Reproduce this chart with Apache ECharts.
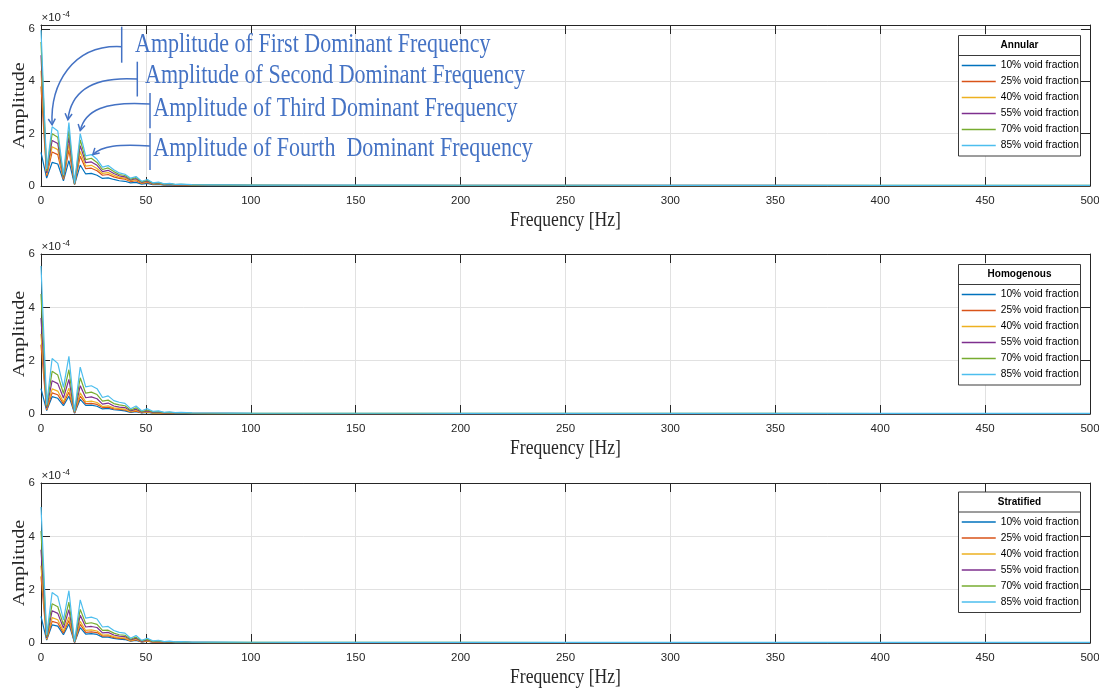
<!DOCTYPE html>
<html>
<head>
<meta charset="utf-8">
<script src="https://cdn.jsdelivr.net/npm/echarts@6/dist/echarts.min.js"></script>
<style>
  html, body { margin: 0; padding: 0; background: #ffffff; }
  #chart { width: 1099px; height: 688px; }
</style>
</head>
<body>
<div id="chart"></div>
<script>
// Frequency bins of the amplitude spectra (Hz)
const freq = [0, 2.7, 5.3, 8, 10.7, 13.3, 16, 18.7, 21.3, 24, 26.7, 29.3, 32, 34.7, 37.3, 40,
  42.7, 45.3, 48, 50.7, 53.3, 56, 58.7, 61.3, 64, 66.7, 72, 80, 90, 100, 125, 150, 175, 200,
  250, 300, 350, 400, 450, 500];

const seriesNames = ['10% void fraction', '25% void fraction', '40% void fraction',
  '55% void fraction', '70% void fraction', '85% void fraction'];
const regimeTitles = ['Annular', 'Homogenous', 'Stratified'];

// Amplitudes, in units of 1e-4
const annularVf10 = [1.28, 0.3, 0.9, 0.84, 0.2, 0.97, 0.05, 0.8, 0.46, 0.48, 0.41, 0.29, 0.31, 0.25, 0.2, 0.18, 0.12, 0.14, 0.07, 0.1, 0.05, 0.06, 0.03, 0.04, 0.024, 0.028, 0.02, 0.018, 0.016, 0.014, 0.013, 0.012, 0.012, 0.011, 0.011, 0.011, 0.01, 0.01, 0.01, 0.01];
const annularVf25 = [3.8, 0.38, 1.3, 1.2, 0.25, 1.38, 0.06, 1.14, 0.66, 0.68, 0.58, 0.41, 0.44, 0.35, 0.29, 0.26, 0.17, 0.2, 0.1, 0.14, 0.07, 0.09, 0.045, 0.06, 0.034, 0.04, 0.028, 0.026, 0.023, 0.02, 0.018, 0.017, 0.017, 0.016, 0.016, 0.016, 0.015, 0.015, 0.015, 0.015];
const annularVf40 = [4.4, 0.44, 1.5, 1.39, 0.29, 1.6, 0.07, 1.32, 0.76, 0.79, 0.67, 0.48, 0.51, 0.41, 0.33, 0.3, 0.2, 0.24, 0.12, 0.17, 0.08, 0.1, 0.05, 0.07, 0.04, 0.046, 0.033, 0.03, 0.026, 0.023, 0.021, 0.02, 0.02, 0.019, 0.019, 0.018, 0.018, 0.017, 0.017, 0.017];
const annularVf55 = [5.0, 0.5, 1.74, 1.62, 0.33, 1.86, 0.08, 1.54, 0.89, 0.92, 0.79, 0.55, 0.6, 0.48, 0.39, 0.35, 0.23, 0.28, 0.14, 0.19, 0.09, 0.12, 0.06, 0.08, 0.045, 0.054, 0.038, 0.035, 0.031, 0.027, 0.025, 0.023, 0.023, 0.022, 0.022, 0.021, 0.021, 0.02, 0.02, 0.02];
const annularVf70 = [5.5, 0.57, 2.0, 1.86, 0.37, 2.13, 0.09, 1.76, 1.01, 1.06, 0.9, 0.63, 0.69, 0.55, 0.44, 0.4, 0.26, 0.32, 0.16, 0.22, 0.11, 0.13, 0.07, 0.09, 0.05, 0.06, 0.044, 0.04, 0.035, 0.031, 0.028, 0.026, 0.026, 0.025, 0.025, 0.024, 0.024, 0.023, 0.023, 0.023];
const annularVf85 = [5.95, 0.65, 2.26, 2.1, 0.42, 2.42, 0.1, 2.0, 1.15, 1.2, 1.02, 0.72, 0.78, 0.62, 0.5, 0.45, 0.3, 0.36, 0.18, 0.25, 0.12, 0.15, 0.08, 0.1, 0.06, 0.07, 0.05, 0.045, 0.04, 0.035, 0.032, 0.03, 0.03, 0.028, 0.028, 0.027, 0.027, 0.026, 0.026, 0.026];

const homogVf10 = [0.95, 0.13, 0.65, 0.59, 0.31, 0.67, 0.03, 0.55, 0.32, 0.33, 0.29, 0.19, 0.21, 0.16, 0.14, 0.12, 0.06, 0.09, 0.04, 0.06, 0.03, 0.037, 0.019, 0.025, 0.015, 0.019, 0.013, 0.012, 0.011, 0.01, 0.009, 0.009, 0.009, 0.008, 0.008, 0.008, 0.008, 0.008, 0.008, 0.008];
const homogVf25 = [2.6, 0.15, 0.79, 0.72, 0.38, 0.82, 0.04, 0.67, 0.39, 0.4, 0.36, 0.24, 0.26, 0.19, 0.17, 0.15, 0.08, 0.11, 0.05, 0.08, 0.04, 0.045, 0.023, 0.03, 0.019, 0.023, 0.016, 0.014, 0.013, 0.012, 0.011, 0.011, 0.01, 0.01, 0.01, 0.01, 0.01, 0.009, 0.009, 0.009];
const homogVf40 = [3.0, 0.18, 0.94, 0.86, 0.45, 0.97, 0.05, 0.79, 0.46, 0.48, 0.43, 0.28, 0.31, 0.23, 0.2, 0.18, 0.09, 0.14, 0.05, 0.09, 0.045, 0.054, 0.03, 0.036, 0.022, 0.027, 0.019, 0.017, 0.015, 0.014, 0.013, 0.013, 0.012, 0.012, 0.012, 0.012, 0.011, 0.011, 0.011, 0.011];
const homogVf55 = [3.6, 0.22, 1.25, 1.14, 0.6, 1.3, 0.06, 1.06, 0.61, 0.64, 0.57, 0.37, 0.41, 0.3, 0.26, 0.24, 0.12, 0.18, 0.07, 0.12, 0.06, 0.07, 0.04, 0.05, 0.03, 0.035, 0.025, 0.023, 0.02, 0.019, 0.017, 0.017, 0.017, 0.016, 0.016, 0.016, 0.015, 0.015, 0.015, 0.015];
const homogVf70 = [4.5, 0.28, 1.6, 1.46, 0.77, 1.66, 0.08, 1.36, 0.78, 0.82, 0.73, 0.48, 0.52, 0.39, 0.34, 0.31, 0.15, 0.23, 0.09, 0.15, 0.08, 0.09, 0.05, 0.06, 0.04, 0.045, 0.032, 0.029, 0.026, 0.024, 0.022, 0.021, 0.021, 0.02, 0.02, 0.02, 0.02, 0.019, 0.019, 0.019];
const homogVf85 = [5.55, 0.35, 2.08, 1.9, 1.0, 2.16, 0.1, 1.76, 1.02, 1.06, 0.95, 0.62, 0.68, 0.5, 0.44, 0.4, 0.2, 0.3, 0.12, 0.2, 0.1, 0.12, 0.06, 0.08, 0.05, 0.06, 0.042, 0.038, 0.034, 0.031, 0.029, 0.028, 0.028, 0.027, 0.027, 0.026, 0.026, 0.026, 0.025, 0.025];

const stratVf10 = [1.0, 0.11, 0.68, 0.63, 0.31, 0.71, 0.02, 0.58, 0.33, 0.35, 0.32, 0.22, 0.22, 0.17, 0.14, 0.13, 0.065, 0.1, 0.036, 0.065, 0.03, 0.036, 0.018, 0.025, 0.014, 0.018, 0.013, 0.012, 0.011, 0.01, 0.01, 0.009, 0.009, 0.009, 0.009, 0.008, 0.008, 0.008, 0.008, 0.008];
const stratVf25 = [2.5, 0.13, 0.81, 0.75, 0.37, 0.84, 0.02, 0.7, 0.4, 0.42, 0.39, 0.26, 0.27, 0.2, 0.17, 0.16, 0.08, 0.12, 0.04, 0.08, 0.034, 0.043, 0.022, 0.03, 0.017, 0.022, 0.015, 0.014, 0.013, 0.012, 0.011, 0.011, 0.011, 0.01, 0.01, 0.01, 0.01, 0.01, 0.01, 0.01];
const stratVf40 = [2.9, 0.15, 0.95, 0.87, 0.44, 0.98, 0.03, 0.81, 0.47, 0.49, 0.45, 0.3, 0.31, 0.24, 0.2, 0.19, 0.09, 0.14, 0.05, 0.09, 0.04, 0.05, 0.025, 0.035, 0.02, 0.025, 0.018, 0.016, 0.015, 0.014, 0.013, 0.013, 0.013, 0.012, 0.012, 0.012, 0.012, 0.012, 0.012, 0.012];
const stratVf55 = [3.5, 0.19, 1.21, 1.11, 0.56, 1.25, 0.03, 1.04, 0.6, 0.62, 0.58, 0.38, 0.4, 0.3, 0.26, 0.24, 0.12, 0.18, 0.06, 0.12, 0.05, 0.064, 0.032, 0.045, 0.026, 0.032, 0.023, 0.021, 0.019, 0.018, 0.017, 0.017, 0.016, 0.016, 0.016, 0.015, 0.015, 0.015, 0.015, 0.015];
const stratVf70 = [4.2, 0.24, 1.47, 1.36, 0.68, 1.53, 0.04, 1.26, 0.73, 0.76, 0.7, 0.47, 0.48, 0.37, 0.31, 0.29, 0.14, 0.22, 0.08, 0.14, 0.06, 0.08, 0.04, 0.055, 0.03, 0.04, 0.028, 0.026, 0.023, 0.022, 0.021, 0.02, 0.02, 0.02, 0.019, 0.019, 0.019, 0.019, 0.018, 0.018];
const stratVf85 = [5.1, 0.3, 1.89, 1.74, 0.87, 1.96, 0.05, 1.62, 0.93, 0.97, 0.9, 0.6, 0.62, 0.47, 0.4, 0.37, 0.18, 0.28, 0.1, 0.18, 0.08, 0.1, 0.05, 0.07, 0.04, 0.05, 0.036, 0.033, 0.03, 0.028, 0.027, 0.026, 0.026, 0.025, 0.025, 0.025, 0.024, 0.024, 0.024, 0.024];

const xTicks = { min: 0, max: 500, step: 50 };
const yTicks = { min: 0, step: 2 };

const panelData = [
  [annularVf10, annularVf25, annularVf40, annularVf55, annularVf70, annularVf85],
  [homogVf10, homogVf25, homogVf40, homogVf55, homogVf70, homogVf85],
  [stratVf10, stratVf25, stratVf40, stratVf55, stratVf70, stratVf85]
];

// ---- look ----
const COLORS = ['#0072BD', '#D95319', '#EDB120', '#7E2F8E', '#77AC30', '#4DBEEE'];
const INK = '#262626';
const GRID_LINE = '#e1e1e1';
const NOTE = '#4472C4';
const SANS = "'Liberation Sans', Arial, sans-serif";
const SERIF = "'Liberation Serif', 'Times New Roman', serif";

const plotLeft = 41, plotWidth = 1049;
const plotTop = [25, 254, 483];
const plotHeight = [161, 160, 160];
const yMax = [6.15, 6, 6];
const legendTitleY = [45.5, 274.5, 502];

const grids = [], xAxes = [], yAxes = [], series = [], legends = [];

const axisBase = {
  type: 'value',
  axisLine: { show: true, onZero: false, lineStyle: { color: INK, width: 1 } },
  axisTick: { show: true, inside: true, length: 9, lineStyle: { color: INK, width: 1 } }
};

for (let p = 0; p < 3; p++) {
  grids.push({ left: plotLeft, top: plotTop[p], width: plotWidth, height: plotHeight[p],
    containLabel: false, outerBoundsMode: 'none' });

  xAxes.push(Object.assign({}, axisBase, {
    gridIndex: p, position: 'bottom', min: xTicks.min, max: xTicks.max, interval: xTicks.step,
    axisLabel: { color: INK, fontFamily: SANS, fontSize: 11.5, margin: 9 },
    splitLine: { show: true, lineStyle: { color: GRID_LINE, width: 1 } }
  }));
  xAxes.push(Object.assign({}, axisBase, {
    gridIndex: p, position: 'top', min: xTicks.min, max: xTicks.max, interval: xTicks.step,
    axisLabel: { show: false }, splitLine: { show: false }
  }));

  yAxes.push(Object.assign({}, axisBase, {
    gridIndex: p, position: 'left', min: yTicks.min, max: yMax[p], interval: yTicks.step,
    axisLabel: { color: INK, fontFamily: SANS, fontSize: 11.5, margin: 6, showMaxLabel: yMax[p] % yTicks.step === 0 },
    splitLine: { show: true, lineStyle: { color: GRID_LINE, width: 1 } }
  }));
  yAxes.push(Object.assign({}, axisBase, {
    gridIndex: p, position: 'right', min: yTicks.min, max: yMax[p], interval: yTicks.step,
    axisLabel: { show: false }, splitLine: { show: false }
  }));

  panelData[p].forEach((vals, k) => {
    series.push({
      type: 'line',
      name: seriesNames[k],
      xAxisIndex: 2 * p,
      yAxisIndex: 2 * p,
      data: freq.map((f, i) => [f, vals[i]]),
      symbol: 'none',
      showSymbol: false,
      lineStyle: { color: COLORS[k], width: 1.2 },
      itemStyle: { color: COLORS[k] },
      z: 2,
      silent: true
    });
  });

  legends.push({
    orient: 'vertical',
    left: 961,
    top: legendTitleY[p] + 14.5,
    padding: 0,
    itemWidth: 34,
    itemHeight: 14,
    itemGap: 4.8,
    selectedMode: false,
    data: seriesNames,
    itemStyle: { opacity: 0 },
    lineStyle: { width: 1.5 },
    textStyle: { fontFamily: SANS, fontSize: 10.2, color: '#000' },
    z: 6
  });
}

const chart = echarts.init(document.getElementById('chart'), null, { renderer: 'canvas' });
chart.setOption({
  backgroundColor: '#ffffff',
  animation: false,
  grid: grids,
  xAxis: xAxes,
  yAxis: yAxes,
  legend: legends,
  series: series
});

// ---- decorations: axis names, exponent labels, legend frames, annotations ----
const gfx = [];

for (let p = 0; p < 3; p++) {
  const midY = plotTop[p] + plotHeight[p] / 2;
  const baseY = plotTop[p] + plotHeight[p];

  gfx.push({
    type: 'text', x: 19, y: midY, rotation: Math.PI / 2, scaleX: 1.15,
    style: { text: 'Amplitude', fontFamily: SERIF, fontSize: 17.6, fill: INK, align: 'center', verticalAlign: 'middle' }
  });
  gfx.push({
    type: 'text', x: plotLeft + plotWidth / 2, y: baseY + 35, scaleY: 1.15,
    style: { text: 'Frequency [Hz]', fontFamily: SERIF, fontSize: 17.6, fill: INK, align: 'center', verticalAlign: 'middle' }
  });

  // ×10^-4 exponent above the amplitude axis
  gfx.push({
    type: 'text', x: plotLeft + 0.5, y: plotTop[p] - 7,
    style: { text: '\u00d710', fontFamily: SANS, fontSize: 11.5, fill: INK, align: 'left', verticalAlign: 'middle' }
  });
  gfx.push({
    type: 'text', x: plotLeft + 21.5, y: plotTop[p] - 10.5,
    style: { text: '-4', fontFamily: SANS, fontSize: 8.5, fill: INK, align: 'left', verticalAlign: 'middle' }
  });

  // legend frame with title row
  const ty = legendTitleY[p];
  gfx.push({
    type: 'rect', z: 4,
    shape: { x: 958.5, y: ty - 10, width: 122, height: 120.5 },
    style: { fill: '#ffffff', stroke: '#3a3a3a', lineWidth: 1 }
  });
  gfx.push({
    type: 'line', z: 5,
    shape: { x1: 958.5, y1: ty + 10, x2: 1080.5, y2: ty + 10 },
    style: { stroke: '#3a3a3a', lineWidth: 1 }
  });
  gfx.push({
    type: 'text', z: 5, x: 1019.5, y: ty,
    style: { text: regimeTitles[p], fontFamily: SANS, fontSize: 10, fontWeight: 'bold', fill: '#000', align: 'center', verticalAlign: 'middle' }
  });
}

// annotation arrows pointing at the dominant-frequency peaks of the annular spectrum
const toPx = (i) => chart.convertToPixel({ xAxisIndex: 0, yAxisIndex: 0 }, [freq[i], annularVf85[i]]);
const peaks = [
  { idx: 2, dx: 0, dy: -2, text: 'Amplitude of First Dominant Frequency', tx: 135, ty: 45,
    bar: [121.7, 26.7, 62.7], start: [121.7, 46.7], c1: [72, 44], c2: [50, 85] },
  { idx: 5, dx: -1, dy: -3, text: 'Amplitude of Second Dominant Frequency', tx: 145, ty: 76.5,
    bar: [137.3, 61.7, 96.5], start: [137.3, 79], c1: [92, 76], c2: [71, 92] },
  { idx: 7, dx: 0, dy: -3, text: 'Amplitude of Third Dominant Frequency', tx: 153.3, ty: 109.3,
    bar: [150, 93, 128.3], start: [150, 104], c1: [105, 101], c2: [85, 110] },
  { idx: 9, dx: 1.5, dy: 0, text: 'Amplitude of Fourth  Dominant Frequency', tx: 153.3, ty: 149.3,
    bar: [150, 133, 170], start: [150, 146], c1: [118, 144], c2: [102, 146] }
];

function arrowHead(tip, from) {
  const dx = tip[0] - from[0], dy = tip[1] - from[1];
  const len = Math.hypot(dx, dy) || 1;
  const ux = dx / len, uy = dy / len;
  const L = 7, a = Math.PI / 6, c = Math.cos(a), s = Math.sin(a);
  const p1 = [tip[0] - L * (ux * c - uy * s), tip[1] - L * (uy * c + ux * s)];
  const p2 = [tip[0] - L * (ux * c + uy * s), tip[1] - L * (uy * c - ux * s)];
  return { type: 'polyline', z: 10, shape: { points: [p1, tip, p2] },
    style: { stroke: NOTE, lineWidth: 1.5, fill: 'none' } };
}

peaks.forEach((pk) => {
  const pt = toPx(pk.idx);
  const tip = [pt[0] + pk.dx, pt[1] + pk.dy];
  gfx.push({ type: 'line', z: 10, shape: { x1: pk.bar[0], y1: pk.bar[1], x2: pk.bar[0], y2: pk.bar[2] },
    style: { stroke: NOTE, lineWidth: 1.5 } });
  gfx.push({ type: 'bezierCurve', z: 10,
    shape: { x1: pk.start[0], y1: pk.start[1], cpx1: pk.c1[0], cpy1: pk.c1[1], cpx2: pk.c2[0], cpy2: pk.c2[1], x2: tip[0], y2: tip[1] },
    style: { stroke: NOTE, lineWidth: 1.5, fill: 'none' } });
  gfx.push(arrowHead(tip, pk.c2));
  gfx.push({ type: 'text', z: 10, x: pk.tx, y: pk.ty, scaleY: 1.2,
    style: { text: pk.text, fontFamily: SERIF, fontSize: 22, fill: NOTE, align: 'left', verticalAlign: 'middle' } });
});

chart.setOption({ graphic: gfx });
</script>
</body>
</html>
